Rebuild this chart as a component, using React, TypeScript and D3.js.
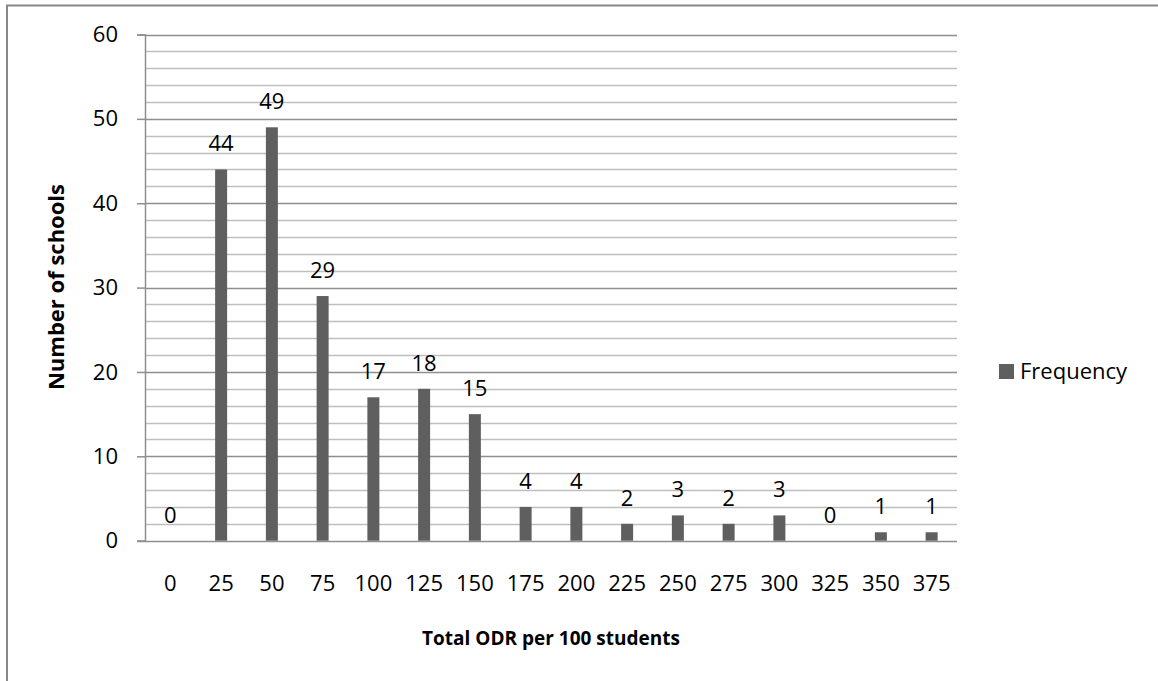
import React, { useEffect, useRef } from "react";
import * as d3 from "d3";

const categories = ["0", "25", "50", "75", "100", "125", "150", "175", "200", "225", "250", "275", "300", "325", "350", "375"];
const frequency = [0, 44, 49, 29, 17, 18, 15, 4, 4, 2, 3, 2, 3, 0, 1, 1];
const yTicks = [0, 10, 20, 30, 40, 50, 60];

const FONT = "'Open Sans', sans-serif";
const FS = 22;

export default function App() {
  const ref = useRef<SVGSVGElement | null>(null);

  useEffect(() => {
    if (!ref.current) return;
    const svg = d3.select(ref.current);
    svg.selectAll("*").remove();

    const left = 145, right = 957, top = 34.5, bottom = 540.7;

    // outer chart border (runs off the page at right/bottom)
    svg.append("path")
      .attr("d", "M7,700 L7,5.5 L1170,5.5")
      .attr("fill", "none")
      .attr("stroke", "#878787")
      .attr("stroke-width", 2);

    const x = d3.scaleBand().domain(categories).range([left, right]).padding(0);
    const y = d3.scaleLinear().domain([0, 60]).range([bottom, top]);

    // gridlines every 2, darker every 10
    const grid = d3.range(2, 61, 2);
    svg.append("g").selectAll("line").data(grid).enter().append("line")
      .attr("x1", left).attr("x2", right)
      .attr("y1", (d) => Math.round(y(d)) + 0.5).attr("y2", (d) => Math.round(y(d)) + 0.5)
      .attr("stroke", (d) => (d % 10 === 0 ? "#8e8e8e" : "#bebebe"))
      .attr("stroke-width", 1.5);

    // y axis
    const yAxis = svg.append("g").attr("transform", `translate(${left},0)`)
      .call(d3.axisLeft(y).tickValues(yTicks).tickSize(8).tickPadding(19));
    yAxis.select(".domain").attr("stroke", "#8e8e8e").attr("stroke-width", 1.5);
    yAxis.selectAll(".tick line").attr("stroke", "#8e8e8e").attr("stroke-width", 1.5);
    yAxis.selectAll(".tick text")
      .attr("font-family", FONT).attr("font-size", FS).attr("fill", "#000");

    // x axis
    const xAxis = svg.append("g").attr("transform", `translate(0,${Math.round(bottom) + 0.5})`)
      .call(d3.axisBottom(x).tickSize(0).tickPadding(34));
    xAxis.select(".domain").attr("d", `M${left - 8},0H${right}`).attr("stroke", "#8e8e8e").attr("stroke-width", 1.5);
    xAxis.selectAll(".tick text")
      .attr("font-family", FONT).attr("font-size", FS).attr("fill", "#000");

    // bars
    const bw = 12;
    const data = categories.map((c, i) => ({ c, v: frequency[i] }));
    svg.append("g").selectAll("rect").data(data).enter().append("rect")
      .attr("x", (d) => x(d.c)! + x.bandwidth() / 2 - bw / 2)
      .attr("y", (d) => y(d.v))
      .attr("width", bw)
      .attr("height", (d) => y(0) - y(d.v))
      .attr("fill", "#5f5f5f");

    // data labels
    svg.append("g").selectAll("text").data(data).enter().append("text")
      .attr("x", (d) => x(d.c)! + x.bandwidth() / 2)
      .attr("y", (d) => y(d.v) - 18)
      .attr("text-anchor", "middle")
      .attr("font-family", FONT).attr("font-size", FS)
      .text((d) => d.v);

    // axis titles
    svg.append("text")
      .attr("transform", `translate(64,287) rotate(-90)`)
      .attr("text-anchor", "middle")
      .attr("font-family", FONT).attr("font-size", 22).attr("font-weight", "bold")
      .text("Number of schools");

    svg.append("text")
      .attr("x", 551).attr("y", 645)
      .attr("text-anchor", "middle")
      .attr("font-family", FONT).attr("font-size", 19).attr("font-weight", "bold")
      .text("Total ODR per 100 students");

    // legend
    svg.append("rect").attr("x", 999).attr("y", 364).attr("width", 15).attr("height", 15).attr("fill", "#5f5f5f");
    svg.append("text").attr("x", 1020).attr("y", 379)
      .attr("font-family", FONT).attr("font-size", FS)
      .text("Frequency");
  }, []);

  return (
    <svg
      ref={ref}
      width={1158}
      height={681}
      style={{ position: "absolute", left: 0, top: 0, background: "#fff" }}
    />
  );
}
